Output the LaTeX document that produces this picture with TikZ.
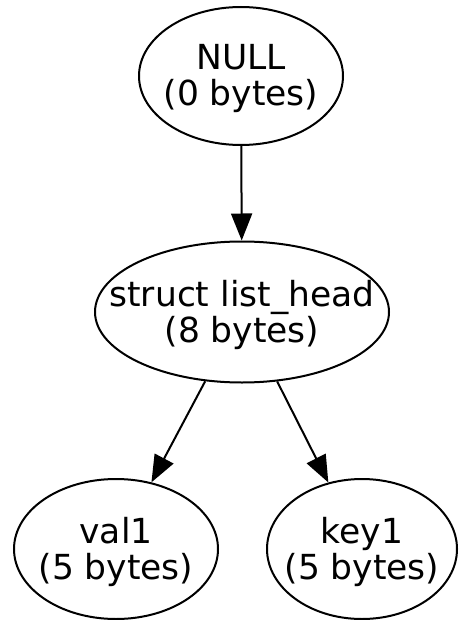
\documentclass[tikz,border=0pt]{standalone}
\usepackage{fontspec}
\setmainfont{DejaVu Sans}
\usetikzlibrary{shapes.geometric,arrows.meta}
\begin{document}
\begin{tikzpicture}[x=1pt,y=-1pt,
  blob/.style={ellipse,draw,line width=2pt,inner sep=0pt},
  txt/.style={align=center,inner sep=0pt,yshift=-3pt,font=\fontsize{34.5}{36}\selectfont},
  edge/.style={line width=2pt,-{Triangle[length=27pt,width=21pt]}}]
  \useasboundingbox (0,0) rectangle (458,620);
  \node[blob,minimum width=204pt,minimum height=138pt,
    label={[txt]center:NULL\\(0 bytes)}] (null) at (241,76) {};
  \node[blob,minimum width=294pt,minimum height=141pt,
    label={[txt]center:struct list\_head\\(8 bytes)}] (head) at (242,312) {};
  \node[blob,minimum width=204pt,minimum height=140pt,
    label={[txt]center:val1\\(5 bytes)}] (val) at (116,549) {};
  \node[blob,minimum width=190pt,minimum height=140pt,
    label={[txt]center:key1\\(5 bytes)}] (key) at (362,549) {};
  \draw[edge] (null) -- (head);
  \draw[edge] (head) -- (val);
  \draw[edge] (head) -- (key);
\end{tikzpicture}
\end{document}
